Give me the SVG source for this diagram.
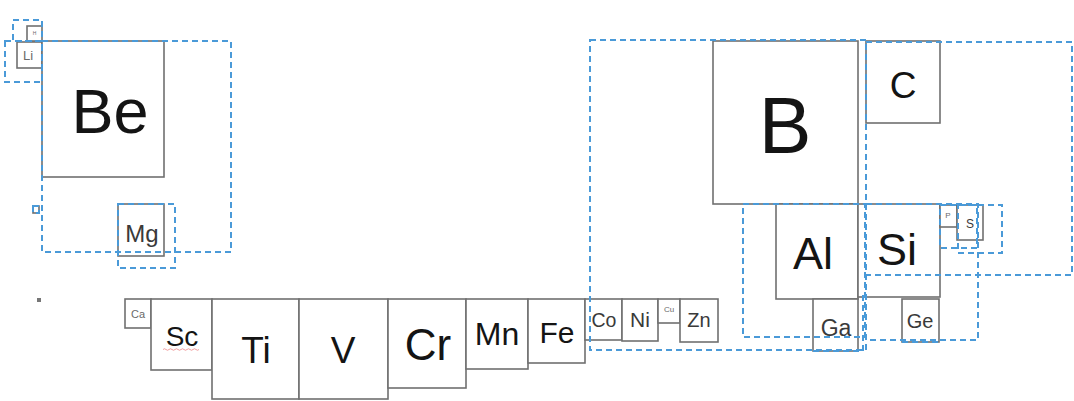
<svg xmlns="http://www.w3.org/2000/svg" width="1074" height="401" viewBox="0 0 1074 401">
<style>
.box{fill:#fff;stroke:#707070;stroke-width:1.6}
.t{font-family:"Liberation Sans",Arial,sans-serif;fill:#141414;text-anchor:middle}
.s{fill:#6a6a6a}
.m{fill:#3a3a3a}
.d{fill:none;stroke:#4a9ad8;stroke-width:2;stroke-dasharray:6 4}
</style>
<rect width="1074" height="401" fill="#fff"/>
<g id="H"><rect class="box" x="27" y="26" width="15" height="15"/><text class="t s" x="34.5" y="35" font-size="5">H</text></g>
<g id="Li"><rect class="box" x="17" y="42" width="25" height="26"/><text class="t s" x="28" y="60" font-size="13">Li</text></g>
<g id="Be"><rect class="box" x="42" y="41" width="122" height="136"/><text class="t" x="110" y="133" font-size="63">Be</text></g>
<g id="Na"><rect class="box" x="33" y="206" width="6" height="7" stroke-width="1.2"/></g>
<g id="Mg"><rect class="box" x="118" y="204" width="46" height="52"/><text class="t m" x="142" y="242" font-size="24">Mg</text></g>
<g id="K"><rect x="37" y="298" width="4" height="4" fill="#777"/></g>
<g id="Ca"><rect class="box" x="125" y="299" width="26" height="29"/><text class="t s" x="138" y="318" font-size="11">Ca</text></g>
<g id="Sc"><rect class="box" x="151" y="299" width="61" height="71"/><text class="t" x="182" y="346" font-size="28">Sc</text><path d="M163 349.5 q1.5 -1.5 3 0 t3 0 t3 0 t3 0 t3 0 t3 0 t3 0 t3 0 t3 0 t3 0 t3 0 t3 0" fill="none" stroke="#e88" stroke-width="0.8"/></g>
<g id="Ti"><rect class="box" x="212" y="299" width="87" height="100"/><text class="t" x="256" y="363" font-size="37">Ti</text></g>
<g id="V"><rect class="box" x="299" y="299" width="89" height="100"/><text class="t" x="343" y="363" font-size="37">V</text></g>
<g id="Cr"><rect class="box" x="388" y="299" width="78" height="89"/><text class="t" x="428" y="360" font-size="44">Cr</text></g>
<g id="Mn"><rect class="box" x="466" y="299" width="62" height="70"/><text class="t" x="497" y="345" font-size="32">Mn</text></g>
<g id="Fe"><rect class="box" x="528" y="299" width="57" height="64"/><text class="t" x="557" y="343" font-size="30">Fe</text></g>
<g id="Co"><rect class="box" x="585" y="299" width="37" height="41"/><text class="t m" x="604" y="327" font-size="19.5">Co</text></g>
<g id="Ni"><rect class="box" x="622" y="299" width="36" height="42"/><text class="t m" x="640" y="327" font-size="21">Ni</text></g>
<g id="Cu"><rect class="box" x="658" y="299" width="22" height="24"/><text class="t s" x="669" y="312" font-size="8">Cu</text></g>
<g id="Zn"><rect class="box" x="680" y="299" width="38" height="43"/><text class="t m" x="699" y="327" font-size="20">Zn</text></g>
<g id="B"><rect class="box" x="713" y="41" width="145" height="163"/><text class="t" x="785" y="153" font-size="79">B</text></g>
<g id="C"><rect class="box" x="866" y="41" width="74" height="82"/><text class="t" x="903" y="98" font-size="37">C</text></g>
<g id="Al"><rect class="box" x="776" y="204" width="82" height="95"/><text class="t" x="813" y="269" font-size="45">Al</text></g>
<g id="Si"><rect class="box" x="858" y="204" width="82" height="93"/><text class="t" x="897" y="265" font-size="45">Si</text></g>
<g id="P"><rect class="box" x="940" y="205" width="17" height="22"/><text class="t s" x="948" y="218" font-size="8">P</text></g>
<g id="S"><rect class="box" x="957" y="205" width="26" height="35"/><text class="t m" x="970" y="228" font-size="12">S</text></g>
<g id="Ga"><rect class="box" x="813" y="299" width="45" height="52"/><text class="t m" x="836" y="336" font-size="23">Ga</text></g>
<g id="Ge"><rect class="box" x="902" y="299" width="37" height="43"/><text class="t m" x="920" y="328" font-size="20">Ge</text></g>
<g id="regions">
<rect class="d" x="13" y="20" width="29" height="21"/>
<rect class="d" x="5" y="41" width="37" height="41"/>
<rect class="d" x="42" y="41" width="189" height="211"/>
<rect class="d" x="118" y="204" width="57" height="64"/>
<rect class="d" x="33" y="206" width="6" height="7" stroke-width="1.2" stroke-dasharray="2 1"/>
<rect class="d" x="590" y="40" width="276" height="310"/>
<rect class="d" x="743" y="204" width="122" height="133"/>
<rect class="d" x="866" y="42" width="206" height="233"/>
<rect class="d" x="866" y="204" width="112" height="136"/>
<path class="d" d="M813 351 H863 V292"/>
<path class="d" d="M902 342 H939"/>
<rect class="d" x="940" y="205" width="37" height="43"/>
<rect class="d" x="958" y="205" width="44" height="48"/>
</g>
</svg>
